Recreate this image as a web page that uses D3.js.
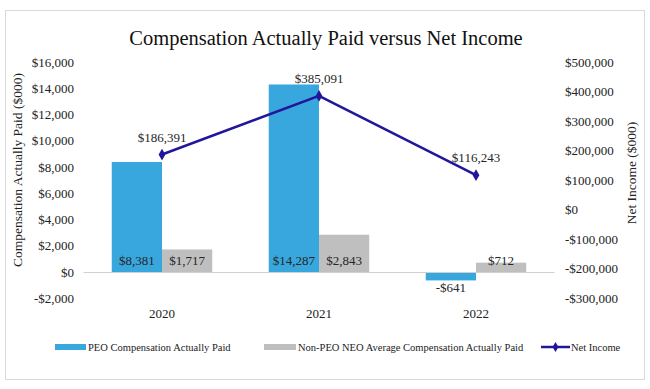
<!DOCTYPE html>
<html lang="en">
<head>
<meta charset="UTF-8">
<title>Compensation Actually Paid versus Net Income</title>
<script src="https://d3js.org/d3.v7.min.js"></script>
<style>
    body { margin: 0; background: #fff; }
    svg { display: block; font-family: "Liberation Serif", "Times New Roman", serif; }
</style>
</head>
<body>
<svg id="chart" width="650" height="389"></svg>
<script>
    // data
    const years = ["2020", "2021", "2022"];
    const peoPaid = [8381, 14287, -641];
    const neoPaid = [1717, 2843, 712];
    const netIncome = [186391, 385091, 116243];
    const leftTicks = [-2000, 0, 2000, 4000, 6000, 8000, 10000, 12000, 14000, 16000];
    const rightTicks = [-300000, -200000, -100000, 0, 100000, 200000, 300000, 400000, 500000];

    const svg = d3.select("#chart");
    const blue = "#38a7de", gray = "#bfbfbf", navy = "#22169a";

    // outer frame
    svg.append("rect")
        .attr("x", 5.5).attr("y", 10.5)
        .attr("width", 639).attr("height", 369)
        .attr("fill", "#fff").attr("stroke", "#d9d9d9");

    const x = d3.scaleBand().domain(years).range([83.5, 554.5]).paddingInner(0.36).paddingOuter(0.18);
    const inner = d3.scaleBand().domain(["peo", "neo"]).range([0, x.bandwidth()]);
    const yL = d3.scaleLinear().domain([-2000, 16000]).range([298.25, 62]);
    const yR = d3.scaleLinear().domain([-300000, 500000]).range([298, 62]);

    // title
    svg.append("text")
        .attr("x", 326).attr("y", 45)
        .attr("text-anchor", "middle")
        .attr("font-size", 20.5).attr("fill", "#111")
        .text("Compensation Actually Paid versus Net Income");

    const fmt = v => (v < 0 ? "-$" : "$") + d3.format(",")(Math.abs(v));

    // left axis
    const axL = svg.append("g").attr("transform", "translate(74,0)")
        .call(d3.axisLeft(yL).tickValues(leftTicks).tickSize(0).tickPadding(0).tickFormat(fmt));
    axL.select(".domain").remove();
    axL.selectAll("text").attr("font-family", "Liberation Serif").attr("font-size", 13).attr("fill", "#222");

    // right axis
    const axR = svg.append("g").attr("transform", "translate(565,0)")
        .call(d3.axisRight(yR).tickValues(rightTicks).tickSize(0).tickPadding(0).tickFormat(fmt));
    axR.select(".domain").remove();
    axR.selectAll("text").attr("font-family", "Liberation Serif").attr("font-size", 13).attr("fill", "#222");

    // axis titles
    svg.append("text")
        .attr("transform", "translate(22,170) rotate(-90)")
        .attr("text-anchor", "middle").attr("font-size", 13.5).attr("fill", "#222")
        .text("Compensation Actually Paid ($000)");
    svg.append("text")
        .attr("transform", "translate(636,173) rotate(-90)")
        .attr("text-anchor", "middle").attr("font-size", 13.5).attr("fill", "#222")
        .text("Net Income ($000)");

    // bars
    const series = [
        { key: "peo", values: peoPaid, color: blue },
        { key: "neo", values: neoPaid, color: gray }
    ];
    series.forEach(s => {
        const g = svg.append("g");
        g.selectAll("rect").data(s.values).join("rect")
            .attr("x", (d, i) => x(years[i]) + inner(s.key))
            .attr("width", inner.bandwidth())
            .attr("y", d => yL(Math.max(0, d)))
            .attr("height", d => Math.abs(yL(d) - yL(0)))
            .attr("fill", s.color);
        g.selectAll("text").data(s.values).join("text")
            .attr("x", (d, i) => x(years[i]) + inner(s.key) + inner.bandwidth() / 2)
            .attr("y", d => d >= 0 ? yL(0) - 7.5 : yL(0) + 19.5)
            .attr("text-anchor", "middle")
            .attr("font-size", 13).attr("fill", "#262626")
            .text(fmt);
    });

    // zero line
    svg.append("line")
        .attr("x1", 83.5).attr("x2", 554.5)
        .attr("y1", yL(0) + 0.5).attr("y2", yL(0) + 0.5)
        .attr("stroke", "#d0d0d0");

    // category labels
    svg.append("g").selectAll("text").data(years).join("text")
        .attr("x", d => x(d) + x.bandwidth() / 2)
        .attr("y", 318)
        .attr("text-anchor", "middle").attr("font-size", 13).attr("fill", "#222")
        .text(d => d);

    // net income line
    const cx = (d, i) => x(years[i]) + x.bandwidth() / 2;
    const line = d3.line().x(cx).y(d => yR(d));
    svg.append("path")
        .datum(netIncome)
        .attr("d", line)
        .attr("fill", "none").attr("stroke", navy).attr("stroke-width", 2.5);
    svg.append("g").selectAll("path").data(netIncome).join("path")
        .attr("transform", (d, i) => `translate(${cx(d, i)},${yR(d)})`)
        .attr("d", d3.symbol(d3.symbolDiamond, 40))
        .attr("fill", navy);
    svg.append("g").selectAll("text").data(netIncome).join("text")
        .attr("x", (d, i) => cx(d, i))
        .attr("y", d => yR(d) - 13)
        .attr("text-anchor", "middle").attr("font-size", 13).attr("fill", "#262626")
        .text(fmt);

    // legend
    const leg = svg.append("g").attr("font-size", 10.5).attr("fill", "#222");
    const legY = 347;
    leg.append("rect").attr("x", 55).attr("y", legY - 3).attr("width", 31).attr("height", 6).attr("fill", blue);
    leg.append("text").attr("x", 88).attr("y", legY + 3.5).text("PEO Compensation Actually Paid");
    leg.append("rect").attr("x", 264).attr("y", legY - 3).attr("width", 32).attr("height", 6).attr("fill", gray);
    leg.append("text").attr("x", 298).attr("y", legY + 3.5).text("Non-PEO NEO Average Compensation Actually Paid");
    leg.append("line").attr("x1", 541).attr("x2", 570).attr("y1", legY).attr("y2", legY)
        .attr("stroke", navy).attr("stroke-width", 2.5);
    leg.append("path").attr("transform", `translate(555.5,${legY})`)
        .attr("d", d3.symbol(d3.symbolDiamond, 30)).attr("fill", navy);
    leg.append("text").attr("x", 571).attr("y", legY + 3.5).text("Net Income");
</script>
</body>
</html>
